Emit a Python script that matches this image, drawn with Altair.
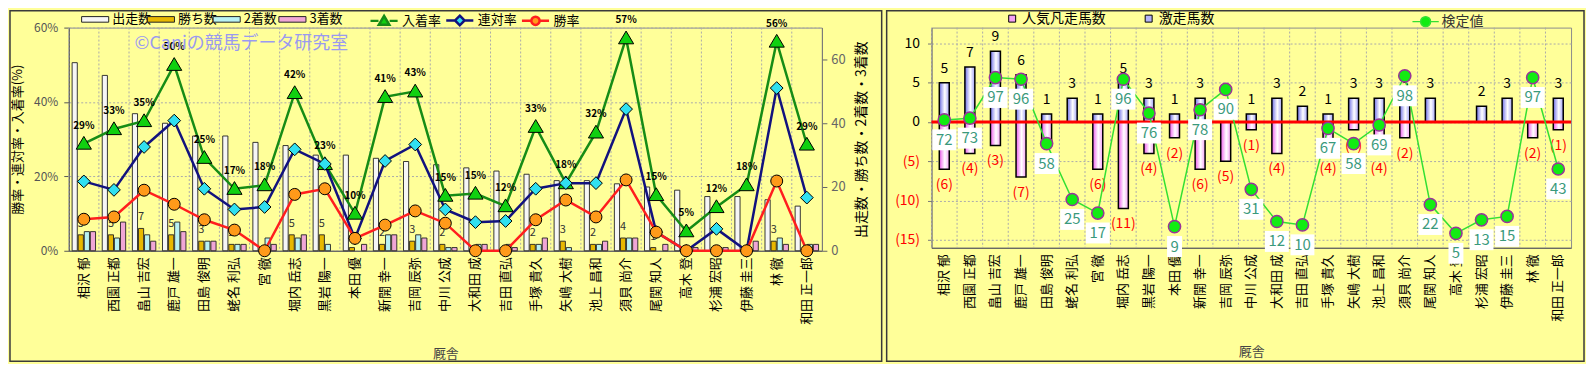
import altair as alt
import pandas as pd

FONT = "Noto Sans CJK JP"

# ---------------- data ----------------
names = ["相沢 郁", "西園 正都", "畠山 吉宏", "鹿戸 雄一", "田島 俊明", "蛯名 利弘", "宮 徹",
         "堀内 岳志", "黒岩 陽一", "本田 優", "新開 幸一", "吉岡 辰弥", "中川 公成", "大和田 成",
         "吉田 直弘", "手塚 貴久", "矢嶋 大樹", "池上 昌和", "須貝 尚介", "尾関 知人", "高木 登",
         "杉浦 宏昭", "伊藤 圭三", "林 徹", "和田 正一郎"]

starts = [59, 55, 43, 40, 36, 36, 34, 33, 30, 30, 29, 28, 27, 26, 25, 24, 22, 22, 21, 20, 19, 17, 17, 16, 14]
wins = [5, 5, 7, 5, 3, 2, 0, 5, 5, 1, 2, 3, 2, 0, 0, 2, 3, 2, 4, 1, 0, 0, 0, 3, 0]
seconds = [6, 4, 5, 9, 3, 2, 4, 4, 2, 0, 5, 5, 1, 2, 2, 2, 1, 2, 4, 0, 0, 1, 0, 4, 2]
thirds = [6, 9, 3, 6, 3, 2, 2, 5, 0, 2, 5, 4, 1, 2, 1, 4, 0, 3, 4, 2, 1, 1, 3, 2, 2]

count_series = ["出走数", "勝ち数", "2着数", "3着数"]
count_colors = ["#f6f6f6", "#e8b800", "#b8f2f4", "#f0a6d6"]
rate_series = ["入着率", "連対率", "勝率"]
line_colors = ["#168c16", "#12127e", "#ff1e1e"]
marker_colors = ["#10d010", "#30e0f0", "#ff9a1a"]
marker_shapes = ["M0,-0.36L0.38,0.28L-0.38,0.28Z",
                 "M0,-0.32L0.32,0L0,0.32L-0.32,0Z",
                 "M-0.3,0A0.3,0.3,0,1,1,0.3,0A0.3,0.3,0,1,1,-0.3,0Z"]
legend_shapes = ["M-1.7,0H-0.7M0.7,0H1.7M0,-0.62L0.66,0.5L-0.66,0.5Z",
                 "M-1.7,0H-0.62M0.62,0H1.7M0,-0.6L0.6,0L0,0.6L-0.6,0Z",
                 "M-1.7,0H-0.56M0.56,0H1.7M-0.52,0A0.52,0.52,0,1,1,0.52,0A0.52,0.52,0,1,1,-0.52,0Z"]

gekiso = [5, 7, 9, 6, 1, 3, 1, 5, 3, 1, 3, 0, 1, 3, 2, 1, 3, 3, 3, 3, 0, 2, 3, 0, 3]
bonso = [6, 4, 3, 7, 3, 0, 6, 11, 4, 2, 6, 5, 1, 4, 0, 4, 1, 4, 2, 0, 0, 0, 0, 2, 1]
kentei = [72, 73, 97, 96, 58, 25, 17, 96, 76, 9, 78, 90, 31, 12, 10, 67, 58, 69, 98, 22, 5, 13, 15, 97, 43]
right_series = ["人気凡走馬数", "激走馬数"]

# ---------------- tables ----------------
counts_df = pd.DataFrame({
    "name": [n for _ in count_series for n in names],
    "series": [s for s in count_series for _ in names],
    "count": starts + wins + seconds + thirds,
})
rate_rows = []
for i, n in enumerate(names):
    rate_rows.append({"name": n, "idx": i, "series": "入着率",
                      "rate": (wins[i] + seconds[i] + thirds[i]) / starts[i]})
    rate_rows.append({"name": n, "idx": i, "series": "連対率",
                      "rate": (wins[i] + seconds[i]) / starts[i]})
    rate_rows.append({"name": n, "idx": i, "series": "勝率", "rate": wins[i] / starts[i]})
rates_df = pd.DataFrame(rate_rows)
names_df = pd.DataFrame({"name": names})
right_df = pd.DataFrame({"name": names, "idx": list(range(len(names))),
                         "gekiso": gekiso, "bonso": bonso, "kentei": kentei})
one_df = pd.DataFrame({"a": [0]})

WL, HL = 756, 224
WR, HR = 642, 221


def xaxis(tp):
    return alt.Axis(labelAngle=-90, labelFontSize=13, labelColor="#000000", labelPadding=6,
                    ticks=False, grid=False, domainColor="#555555",
                    titleFontSize=13, titleFontWeight="normal", titleColor="#444444",
                    titlePadding=tp, labelLimit=200)


def xenc(tp=23, **kw):
    return alt.X("name:N", sort=names, title="厩舎",
                 scale=alt.Scale(domain=names, paddingInner=0, paddingOuter=0),
                 axis=xaxis(tp), **kw)


GRID = "#ababab"

# ================= LEFT PANEL =================
frame_l = alt.Chart(one_df).mark_rect(fillOpacity=0, stroke="#3a3a3a", strokeWidth=1.5).encode(
    x=alt.value(-59), x2=alt.value(WL + 60), y=alt.value(-17), y2=alt.value(HL + 111))

vgrid_l = alt.Chart(names_df).mark_rule(color=GRID, strokeDash=[2, 2], strokeWidth=1).encode(
    x=xenc(bandPosition=0))

xoff = alt.XOffset("series:N", sort=count_series,
                   scale=alt.Scale(domain=count_series, paddingInner=0.15, paddingOuter=0.55))

legA = alt.Legend(title=None, orient="none", legendX=18, legendY=-17, direction="horizontal",
                  symbolType="M-1.7,-0.35H1.7V0.35H-1.7Z", symbolSize=256,
                  symbolStrokeColor="#222222", symbolStrokeWidth=1, labelFontSize=13,
                  labelColor="#000000", labelOffset=8.6, columnPadding=-7, gridAlign="all",
                  padding=0)

bars = alt.Chart(counts_df).transform_filter("datum.count > 0").mark_bar(
    stroke="#222222", strokeWidth=0.9).encode(
    x=xenc(),
    xOffset=xoff,
    y=alt.Y("count:Q", scale=alt.Scale(domain=[0, 70]),
            axis=alt.Axis(orient="right", values=list(range(0, 71, 10)), grid=False,
                          labelOverlap=False,
                          title="出走数・勝ち数・2着数・3着数", titleAngle=270, titleBaseline="top",
                          titleFontSize=14, titleFontWeight="normal", titleColor="#000000",
                          labelColor="#666666", labelFontSize=13, tickSize=5, tickColor="#666666",
                          domainColor="#777777", labelPadding=4, titlePadding=9)),
    color=alt.Color("series:N", sort=count_series,
                    scale=alt.Scale(domain=count_series, range=count_colors), legend=legA),
)

win_lbl = alt.Chart(counts_df).transform_filter(
    "datum.series == '勝ち数' && datum.count > 0").mark_text(
    baseline="bottom", dy=-6, fontSize=11, color="#333333", font=FONT).encode(
    x=xenc(), xOffset=xoff, y=alt.Y("count:Q"), text="count:Q")

yrate_axis = alt.Axis(orient="left", format=".0%", values=[0, 0.1, 0.2, 0.3, 0.4, 0.5, 0.6],
                      labelOverlap=False,
                      title="勝率・連対率・入着率(%)", titleFontSize=13, titleFontWeight="normal",
                      titleColor="#000000", labelFontSize=12, labelColor="#555555",
                      grid=True, gridDash=[2, 2], gridColor=GRID, domainColor="#555555",
                      tickColor="#555555", tickSize=5, labelPadding=6, titlePadding=9)

line_layers = []
for k, (s, lc) in enumerate(zip(rate_series, line_colors)):
    line_layers.append(
        alt.Chart(rates_df).transform_filter(f"datum.series == '{s}'").mark_line(
            strokeWidth=2.5, color=lc).encode(
            x=xenc(),
            y=alt.Y("rate:Q", scale=alt.Scale(domain=[0, 0.6]),
                    axis=yrate_axis if k == 0 else alt.Axis(orient="left")),
            order=alt.Order("idx:Q")))

pt_layers = []
for s, shp, fc in zip(rate_series, marker_shapes, marker_colors):
    pt_layers.append(
        alt.Chart(rates_df).transform_filter(f"datum.series == '{s}'").mark_point(
            shape=shp, filled=True, fill=fc, size=1600, stroke="#000000", strokeWidth=1,
            opacity=1).encode(x=xenc(), y=alt.Y("rate:Q")))

legB = alt.Legend(title=None, orient="none", legendX=307, legendY=-17, direction="horizontal",
                  symbolSize=256, symbolStrokeWidth=2.5, labelFontSize=13, labelColor="#000000",
                  labelOffset=8.6, columnPadding=-1, gridAlign="all", padding=0)
legB_dummy = alt.Chart(rates_df).transform_filter("false").mark_point(
    filled=True, opacity=1, strokeWidth=2.5).encode(
    stroke=alt.Stroke("series:N", scale=alt.Scale(domain=rate_series, range=line_colors), legend=legB),
    fill=alt.Fill("series:N", scale=alt.Scale(domain=rate_series, range=marker_colors), legend=legB),
    shape=alt.Shape("series:N", scale=alt.Scale(domain=rate_series, range=legend_shapes), legend=legB),
)

pct = alt.Chart(rates_df).transform_filter("datum.series == '入着率'").mark_text(
    dy=-18, fontSize=10, fontWeight="bold", color="#000000", font=FONT).encode(
    x=xenc(), y=alt.Y("rate:Q"), text=alt.Text("rate:Q", format=".0%"))

watermark = alt.Chart(one_df).mark_text(
    text="©Caniの競馬データ研究室", align="left", baseline="middle", fontSize=18,
    color="#9a9af0", font=FONT).encode(x=alt.value(66), y=alt.value(16))

left = alt.layer(
    alt.layer(frame_l, vgrid_l, bars, win_lbl),
    alt.layer(*line_layers, *pt_layers, pct, watermark, legB_dummy),
).resolve_scale(y="independent").properties(width=WL, height=HL)

# ================= RIGHT PANEL =================
frame_r = alt.Chart(one_df).mark_rect(fillOpacity=0, stroke="#3a3a3a", strokeWidth=1.5).encode(
    x=alt.value(-45), x2=alt.value(WR + 13), y=alt.value(-17), y2=alt.value(HR + 114))

vgrid_r = alt.Chart(names_df).mark_rule(color=GRID, strokeDash=[2, 2], strokeWidth=1).encode(
    x=xenc(24, bandPosition=0))

yR = alt.Axis(orient="left", values=[-15, -10, -5, 0, 5, 10], labelOverlap=False,
              labelExpr="datum.value < 0 ? '(' + (-datum.value) + ')' : datum.label",
              labelColor={"condition": {"test": "datum.value < 0", "value": "#ff0000"},
                          "value": "#000000"},
              labelFontSize=14, grid=True, gridDash=[2, 2], gridColor=GRID,
              domainColor="#777777", tickColor="#777777", tickSize=4, labelPadding=8, title=None)

blue_grad = alt.LinearGradient(
    gradient="linear", x1=0, x2=1, y1=0, y2=0,
    stops=[alt.GradientStop(color="#7070e8", offset=0),
           alt.GradientStop(color="#ffffff", offset=0.55),
           alt.GradientStop(color="#a0a0f6", offset=1)])
pink_grad = alt.LinearGradient(
    gradient="linear", x1=0, x2=1, y1=0, y2=0,
    stops=[alt.GradientStop(color="#ee5cee", offset=0),
           alt.GradientStop(color="#ffffff", offset=0.55),
           alt.GradientStop(color="#f6a0f6", offset=1)])

blue_bars = alt.Chart(right_df).transform_filter("datum.gekiso > 0").mark_bar(
    width=10, fill=blue_grad, stroke="#000000", strokeWidth=1.5).encode(
    x=xenc(24), y=alt.Y("gekiso:Q", scale=alt.Scale(domain=[-15, 11]), axis=yR))

pink_bars = alt.Chart(right_df).transform_filter("datum.bonso > 0").transform_calculate(
    gekiso="-datum.bonso").mark_bar(
    width=10, fill=pink_grad, stroke="#000000", strokeWidth=1.5).encode(
    x=xenc(24), y=alt.Y("gekiso:Q"))

zero_rule = alt.Chart(one_df).mark_rule(color="#ff0000", strokeWidth=3).encode(y=alt.datum(0))

blue_lbl = alt.Chart(right_df).transform_filter("datum.gekiso > 0").mark_text(
    dy=-14, fontSize=14, color="#000000", font=FONT).encode(
    x=xenc(24), y=alt.Y("gekiso:Q"), text="gekiso:Q")

pink_lbl = alt.Chart(right_df).transform_filter("datum.bonso > 0").transform_calculate(
    gekiso="-datum.bonso", txt="'(' + datum.bonso + ')'").mark_text(
    dy=16, fontSize=14, color="#ff0000", font=FONT).encode(
    x=xenc(24), y=alt.Y("gekiso:Q"), text="txt:N")

legC = alt.Legend(title=None, orient="none", legendX=74, legendY=-16, direction="horizontal",
                  symbolType="square", symbolSize=49, symbolStrokeColor="#000000",
                  symbolStrokeWidth=1, labelFontSize=14, labelColor="#000000", labelOffset=3,
                  columnPadding=36, padding=0)
leg_dummy = alt.Chart(right_df).transform_filter("false").mark_square(opacity=1).encode(
    color=alt.Color("name:N", scale=alt.Scale(domain=right_series, range=["#f4a0f4", "#b4b4f8"]),
                    legend=legC))

ykt = alt.Y("kentei:Q", scale=alt.Scale(domain=[-3.5, 126.5]), axis=None)

kline = alt.Chart(right_df).mark_line(strokeWidth=1.5, color="#33e033").encode(
    x=xenc(24), y=ykt, order=alt.Order("idx:Q"))

kpts = alt.Chart(right_df).mark_point(
    filled=True, size=150, shape="circle", fill="#12ec12", stroke="#993399", strokeWidth=1.5,
    opacity=1).encode(x=xenc(24), y=ykt)

legD = alt.Legend(title=None, orient="none", legendX=487, legendY=-15, direction="horizontal",
                  symbolSize=256, symbolStrokeWidth=1.5, labelFontSize=14, labelColor="#333333",
                  labelOffset=7, padding=0)
legD_dummy = alt.Chart(right_df).transform_filter("false").transform_calculate(
    k="'検定値'").mark_point(filled=True, opacity=1, strokeWidth=1.5).encode(
    stroke=alt.Stroke("k:N", scale=alt.Scale(domain=["検定値"], range=["#33e033"]), legend=legD),
    fill=alt.Fill("k:N", scale=alt.Scale(domain=["検定値"], range=["#12ec12"]), legend=legD),
    shape=alt.Shape("k:N", scale=alt.Scale(
        domain=["検定値"],
        range=["M-1.65,0H-0.62M0.62,0H1.65M-0.62,0A0.62,0.62,0,1,1,0.62,0A0.62,0.62,0,1,1,-0.62,0Z"]),
        legend=legD),
)

box2 = alt.Chart(right_df).transform_filter("datum.kentei >= 10").mark_point(
    shape="M-1,-0.875H1V0.875H-1Z", size=576, filled=True, color="#ffffff", opacity=1,
    strokeWidth=0, yOffset=20).encode(x=xenc(24), y=ykt)
box1 = alt.Chart(right_df).transform_filter("datum.kentei < 10").mark_point(
    shape="M-1,-1.4H1V1.4H-1Z", size=225, filled=True, color="#ffffff", opacity=1,
    strokeWidth=0, yOffset=20).encode(x=xenc(24), y=ykt)

ktxt = alt.Chart(right_df).mark_text(dy=20, fontSize=15, color="#3a9a7c", font=FONT).encode(
    x=xenc(24), y=ykt, text="kentei:Q")

right = alt.layer(
    alt.layer(frame_r, vgrid_r, blue_bars, pink_bars, zero_rule, blue_lbl, pink_lbl, leg_dummy),
    alt.layer(kline, kpts, box2, box1, ktxt, legD_dummy),
).resolve_scale(y="independent").properties(width=WR, height=HR)

chart = alt.concat(left, right, columns=2, spacing=1).resolve_scale(
    color="independent", stroke="independent", fill="independent", shape="independent"
).properties(
    padding={"left": 0, "top": 0, "right": 0, "bottom": 0}
).configure(background="#ffff99", font=FONT).configure_view(
    fill="#f6eedb", stroke="#8c8c8c", strokeWidth=1
).configure_axis(labelFont=FONT, titleFont=FONT).configure_legend(labelFont=FONT)

chart.save("out.html", embed_options={"renderer": "svg", "actions": False})
